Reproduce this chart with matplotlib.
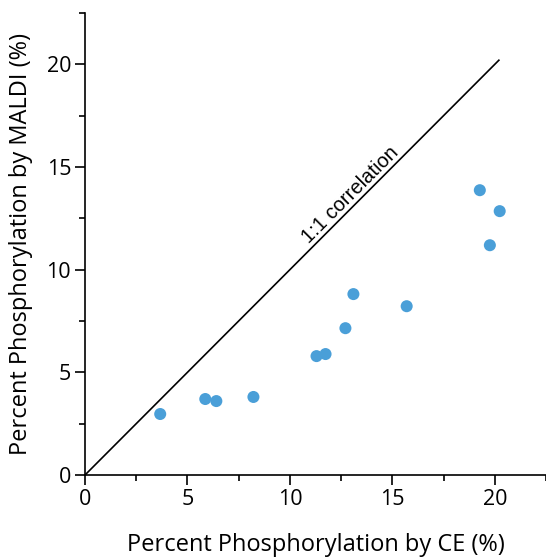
import matplotlib.pyplot as plt
from matplotlib.ticker import MultipleLocator

# percent phosphorylation, CE vs MALDI
ce = [3.67, 5.87, 6.41, 8.22, 11.3, 11.74, 12.71, 13.1, 15.7, 19.27, 19.76, 20.24]
maldi = [2.97, 3.70, 3.60, 3.80, 5.79, 5.89, 7.15, 8.81, 8.22, 13.87, 11.19, 12.85]
line_ends = [0, 20.2]

fig = plt.figure(figsize=(5.46, 5.60), dpi=100)
ax = fig.add_axes([0.1557, 0.1518, 0.8443, 0.825])

ax.plot(line_ends, line_ends, color='black', lw=1.2)
ax.scatter(ce, maldi, s=75, color='#4a9fd8', zorder=3, edgecolors='none')

ax.text(13.3, 13.3, '1:1 correlation', rotation=45, rotation_mode='anchor',
        ha='center', va='bottom', fontsize=14.5, family='Liberation Sans')

ax.set_xlim(0, 22.5)
ax.set_ylim(0, 22.5)
ax.xaxis.set_major_locator(MultipleLocator(5))
ax.xaxis.set_minor_locator(MultipleLocator(2.5))
ax.yaxis.set_major_locator(MultipleLocator(5))
ax.yaxis.set_minor_locator(MultipleLocator(2.5))
ax.tick_params(which='major', length=7, width=1.2, labelsize=15.5, pad=3)
ax.tick_params(which='minor', length=4, width=1.2)
for lab in ax.get_xticklabels() + ax.get_yticklabels():
    lab.set_family('Open Sans')

for s in ['top', 'right']:
    ax.spines[s].set_visible(False)
for s in ['left', 'bottom']:
    ax.spines[s].set_linewidth(1.2)

ax.set_xlabel('Percent Phosphorylation by CE (%)', fontsize=17, family='Open Sans', labelpad=17)
ax.set_ylabel('Percent Phosphorylation by MALDI (%)', fontsize=17, family='Open Sans', labelpad=10)

fig.savefig('out.png', dpi=100)
